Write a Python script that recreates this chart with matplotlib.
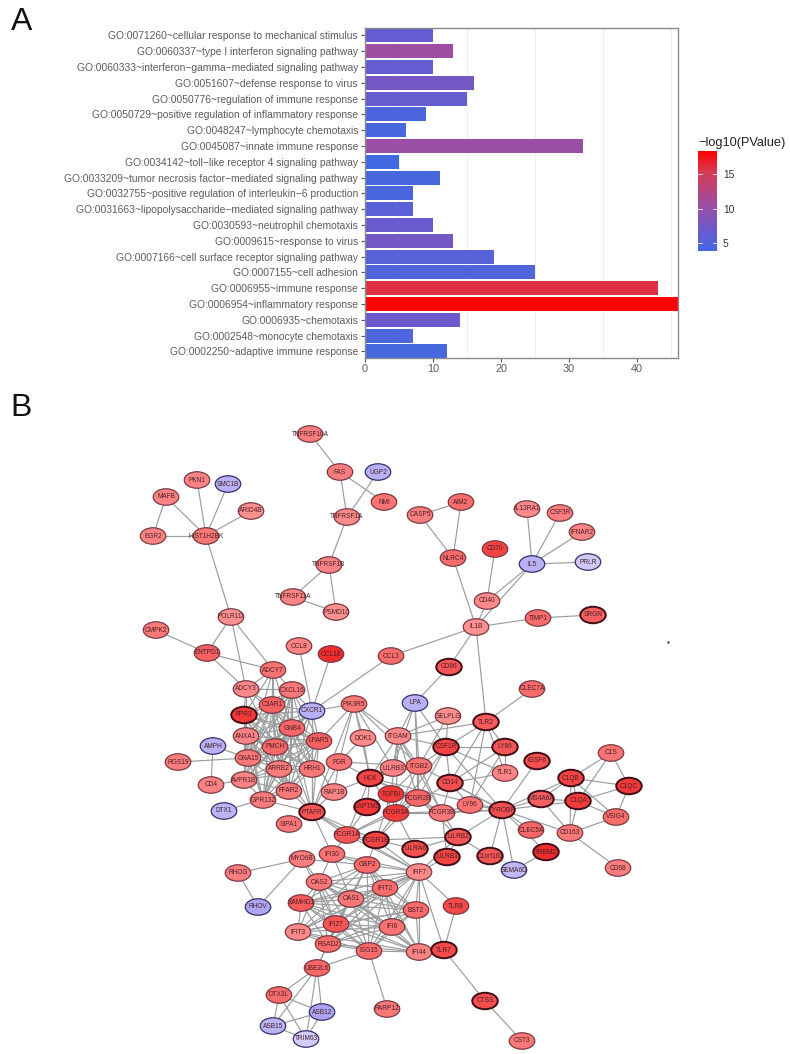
#!/usr/bin/env python
"""GO enrichment bars (A) and PPI network (B)."""
from itertools import combinations

import matplotlib
matplotlib.use("Agg")
import matplotlib.pyplot as plt
from matplotlib.colors import LinearSegmentedColormap, Normalize
from matplotlib.patches import Ellipse

plt.rcParams["font.family"] = ["Liberation Sans", "DejaVu Sans"]

W, H = 790, 1054

# --- panel A data (top to bottom) ---
GO_TERMS = [
    "GO:0071260~cellular response to mechanical stimulus",
    "GO:0060337~type I interferon signaling pathway",
    "GO:0060333~interferon−gamma−mediated signaling pathway",
    "GO:0051607~defense response to virus",
    "GO:0050776~regulation of immune response",
    "GO:0050729~positive regulation of inflammatory response",
    "GO:0048247~lymphocyte chemotaxis",
    "GO:0045087~innate immune response",
    "GO:0034142~toll−like receptor 4 signaling pathway",
    "GO:0033209~tumor necrosis factor−mediated signaling pathway",
    "GO:0032755~positive regulation of interleukin−6 production",
    "GO:0031663~lipopolysaccharide−mediated signaling pathway",
    "GO:0030593~neutrophil chemotaxis",
    "GO:0009615~response to virus",
    "GO:0007166~cell surface receptor signaling pathway",
    "GO:0007155~cell adhesion",
    "GO:0006955~immune response",
    "GO:0006954~inflammatory response",
    "GO:0006935~chemotaxis",
    "GO:0002548~monocyte chemotaxis",
    "GO:0002250~adaptive immune response",
]
GO_COUNTS = [10, 13, 10, 16, 15, 9, 6, 32, 5, 11, 7, 7, 10, 13, 19, 25, 43, 46, 14, 7, 12]
GO_LOGP = [6.3, 10.6, 6.3, 7.6, 6.4, 4.6, 4.2, 10.4, 3.8, 4.2, 4.4, 5.6, 6.6, 7.4, 5.4, 4.9,
           15.9, 18.4, 6.9, 4.6, 4.1]
CBAR_TICKS = [5, 10, 15]

# --- panel B data ---
NODE_NAMES = [
    "TNFRSF10A", "FAS", "UGP2", "NMI", "TNFRSF1A", "TNFRSF1B", "TNFRSF11A", "PSMD10",
    "PKN1", "SMC1B", "MAFB", "ARID4B", "EGR2", "HIST1H2BK", "POLR1D", "CMPK2", "ENTPD1",
    "CCL8", "CCL18", "CCL3", "ADCY7", "ADCY3", "CXCL16", "C3AR1", "CXCR1", "PIK3R5", "FPR3",
    "CASP5", "AIM2", "IL13RA1", "CSF3R", "IFNAR2", "NLRC4", "CD70", "IL5", "PRLR", "CD40",
    "IL1B", "TIMP1", "SRGN", "CD86", "CLEC7A", "LPA", "SELPLG", "TLR2",
    "ITGAM", "CSF1R", "LY86", "TLR1", "IGSF6", "C1QB", "C1S", "C1QC", "C1QA", "MS4A6A",
    "VSIG4", "CD163", "CD14", "LILRB3", "ITGB2", "TGFBI", "FCGR2B", "FCGR3A", "FCGR3B",
    "LY96", "TYROBP", "CLEC5A", "TREM2", "C1orf162", "SEMA6D", "LILRB2", "LILRA6", "LILRB1",
    "IRF7", "CD68",
    "ANXA1", "GNB4", "PMCH", "LPAR5", "AMPH", "GNA15", "RGS19", "ARRB2", "HRH1", "FGR", "DOK1",
    "HCK", "CD4", "AVPR1B", "FFAR2", "RAP1B", "LAPTM5", "GPR132", "DTX1", "PTAFR", "SIPA1",
    "FCGR1A", "FCGR1B", "IFI30", "MYO6B", "GBP2",
    "RHOG", "RHOV", "OAS2", "OAS1", "IFIT2", "BST2", "TLR8", "SAMHD1", "IFI27", "IFI6",
    "IFIT3", "RSAD2", "ISG15", "IFI44", "TLR7", "UBE2L6", "DTX3L", "ASB12", "PARP12", "CTSS",
    "ASB15", "TRIM63", "CST3",
]
NODE_X = [
    310, 340, 378, 384, 347, 329, 293, 336,
    197, 228, 166, 251, 153, 206, 231, 156, 207,
    299, 331, 391, 273, 246, 292, 272, 312, 354, 244,
    420, 461, 527, 560, 582, 453, 495, 532, 588, 487,
    476, 538, 593, 449, 532, 415, 448, 486,
    398, 446, 505, 505, 537, 571, 611, 629, 578, 541,
    616, 570, 450, 393, 419, 391, 418, 396, 442,
    470, 502, 531, 546, 490, 514, 458, 415, 447,
    419, 618,
    246, 292, 275, 319, 213, 248, 178, 279, 312, 339, 363,
    370, 211, 244, 289, 334, 367, 263, 224, 312, 289,
    347, 376, 332, 302, 367,
    238, 258, 319, 351, 385, 416, 456, 301, 336, 392,
    298, 328, 369, 419, 444, 317, 279, 322, 387, 485,
    273, 306, 522,
]
NODE_Y = [
    434, 472, 472, 502, 517, 565, 597, 612,
    480, 484, 497, 511, 536, 536, 617, 630, 653,
    646, 654, 656, 670, 689, 690, 705, 711, 704, 715,
    515, 502, 509, 513, 532, 558, 549, 564, 562, 601,
    627, 618, 615, 667, 689, 703, 716, 722,
    736, 747, 747, 773, 761, 778, 753, 786, 801, 799,
    817, 833, 783, 768, 766, 794, 798, 813, 813,
    805, 810, 830, 852, 856, 870, 837, 849, 857,
    872, 868,
    736, 728, 747, 741, 746, 758, 762, 769, 769, 762, 738,
    778, 785, 780, 791, 792, 807, 800, 811, 812, 824,
    835, 840, 854, 859, 865,
    873, 907, 882, 899, 888, 910, 906, 903, 924, 927,
    932, 944, 951, 952, 950, 968, 995, 1012, 1009, 1001,
    1026, 1039, 1041,
]
# expression level: negative = down (lavender), positive = up (salmon to red)
NODE_LEVEL = [
    0.25, 0.25, -0.7, 0.35, 0.15, 0.2, 0.2, 0.1,
    0.2, -0.7, 0.2, 0.1, 0.2, 0.3, 0.1, 0.3, 0.5,
    0.2, 0.95, 0.4, 0.35, 0.15, 0.3, 0.5, -0.7, 0.3, 0.85,
    0.25, 0.4, 0.15, 0.25, 0.2, 0.4, 0.75, -0.7, -0.35, 0.15,
    0.1, 0.4, 0.5, 0.6, 0.4, -0.7, 0.1, 0.55,
    0.15, 0.75, 0.6, 0.2, 0.65, 0.75, 0.35, 0.85, 0.8, 0.5,
    0.4, 0.3, 0.65, 0.2, 0.35, 0.85, 0.45, 0.8, 0.3,
    0.35, 0.65, 0.45, 0.95, 0.6, -0.6, 0.6, 0.65, 0.75,
    0.15, 0.25,
    0.2, 0.45, 0.45, 0.5, -0.7, 0.3, 0.25, 0.25, 0.3, 0.35, 0.15,
    0.75, 0.2, 0.2, 0.3, 0.2, 0.85, 0.25, -0.65, 0.6, 0.3,
    0.6, 0.75, 0.35, 0.25, 0.4,
    0.25, -0.85, 0.3, 0.3, 0.4, 0.4, 0.7, 0.55, 0.6, 0.35,
    0.15, 0.4, 0.4, 0.2, 0.7, 0.45, 0.4, -0.9, 0.3, 0.65,
    -0.65, -0.3, 0.3,
]
THICK_NODES = [
    "FPR3", "CD86", "SRGN", "TLR2", "CSF1R", "LY86", "IGSF6", "C1QB", "C1QC", "C1QA", "MS4A6A",
    "CD14", "HCK", "LAPTM5", "PTAFR", "FCGR1B", "TYROBP", "LILRB2", "LILRA6", "LILRB1",
    "C1orf162", "TREM2", "TLR7", "CTSS",
]
GPCR_CLUSTER = ["CXCL16", "C3AR1", "CXCR1", "FPR3", "ANXA1", "GNB4", "PMCH",
                "LPAR5", "GNA15", "ARRB2", "HRH1", "AVPR1B", "FFAR2", "GPR132"]
ISG_CLUSTER = ["OAS2", "OAS1", "IFIT2", "BST2", "SAMHD1", "IFI27", "IFI6", "IFIT3", "RSAD2",
               "ISG15", "IFI44", "IRF7", "GBP2"]
EDGES = """TNFRSF10A-FAS FAS-TNFRSF1A FAS-NMI UGP2-TNFRSF1A TNFRSF1A-TNFRSF1B TNFRSF1B-TNFRSF11A
TNFRSF1B-PSMD10 TNFRSF11A-PSMD10 PKN1-HIST1H2BK SMC1B-HIST1H2BK MAFB-HIST1H2BK ARID4B-HIST1H2BK
EGR2-HIST1H2BK MAFB-EGR2 HIST1H2BK-POLR1D POLR1D-ENTPD1 POLR1D-ADCY7 POLR1D-ADCY3 CMPK2-ENTPD1
ENTPD1-ADCY7 ENTPD1-ADCY3 CCL8-CXCR1 CCL18-CXCR1 CCL3-CXCR1 CCL3-IL1B CASP5-AIM2 CASP5-NLRC4
AIM2-NLRC4 NLRC4-IL1B CD70-CD40 CD40-IL1B CD40-IL5 IL1B-IL5 IL13RA1-IL5 CSF3R-IL5 IFNAR2-IL5
PRLR-IL5 IL1B-TIMP1 TIMP1-SRGN IL1B-CD86 CD86-LPA IL1B-TLR2 TLR2-CLEC7A
ADCY7-ADCY3 ADCY7-CXCL16 ADCY7-C3AR1 ADCY7-PMCH ADCY7-GNB4 ADCY7-GNA15 ADCY7-FPR3
ADCY3-CXCL16 ADCY3-C3AR1 ADCY3-FPR3 ADCY3-PMCH ADCY3-ANXA1 ADCY3-GNB4
LPA-ITGAM LPA-CSF1R LPA-ITGB2 LPA-FCGR2B LPA-LILRB3 AMPH-GNA15 AMPH-CD4 RGS19-GNA15 CD4-AVPR1B
DTX1-FFAR2 PTAFR-CXCR1 PTAFR-LPAR5 PTAFR-HRH1 PTAFR-FFAR2 PTAFR-ARRB2 PTAFR-GNB4 PTAFR-C3AR1
PTAFR-FCGR1A PTAFR-FCGR1B PTAFR-IFI30 PTAFR-IRF7 PTAFR-GPR132 RAP1B-GNB4
PIK3R5-CXCR1 PIK3R5-FGR PIK3R5-HCK PIK3R5-ITGAM PIK3R5-DOK1 PIK3R5-PTAFR PIK3R5-LILRB3
PIK3R5-ITGB2 PIK3R5-LPAR5 DOK1-HCK DOK1-FGR FGR-HCK FGR-PTAFR FGR-ITGB2 RAP1B-HCK RAP1B-PTAFR
RAP1B-FGR HCK-LAPTM5 HCK-TYROBP HCK-ITGB2 HCK-FCGR2B HCK-FCGR3A HCK-FCGR1A HCK-ITGAM HCK-LILRB3
HCK-FCGR3B ITGAM-ITGB2 ITGAM-CSF1R ITGAM-FCGR3A ITGAM-FCGR2B ITGAM-LILRB3 ITGAM-SELPLG
ITGAM-TGFBI ITGAM-FCGR3B ITGB2-SELPLG ITGB2-CSF1R ITGB2-TYROBP ITGB2-FCGR3B ITGB2-FCGR3A
ITGB2-TGFBI ITGB2-LILRB3 ITGB2-FCGR2B CSF1R-SELPLG CSF1R-TLR2 CSF1R-LY86 CSF1R-CD14 CSF1R-TYROBP
CSF1R-FCGR3A CSF1R-FCGR2B CSF1R-TLR1 TLR2-CD14 TLR2-LY96 TLR2-LY86 TLR2-TLR1 TLR2-ITGAM LY86-TLR1
LY86-LY96 LY86-CD14 TLR1-CD14 CD14-LY96 CD14-TYROBP CD14-FCGR3A CD14-FCGR3B LY96-TYROBP LY96-FCGR3B
TYROBP-IGSF6 TYROBP-C1QB TYROBP-MS4A6A TYROBP-C1QA TYROBP-CD163 TYROBP-CLEC5A TYROBP-C1orf162
TYROBP-SEMA6D TYROBP-LILRB2 TYROBP-FCGR3A TYROBP-FCGR3B TYROBP-TREM2 TREM2-SEMA6D MS4A6A-C1QB
MS4A6A-C1QA MS4A6A-CD163 C1QB-C1S C1QB-C1QC C1QB-C1QA C1QB-VSIG4 C1QB-CD163 C1S-C1QC C1S-C1QA
C1QC-C1QA C1QC-VSIG4 C1QA-VSIG4 C1QA-CD163 VSIG4-CD163 CD163-CD68 LILRB2-LILRB1 LILRB2-LILRA6
LILRB2-C1orf162 LILRB2-FCGR3B LILRB2-FCGR1B LILRB2-FCGR2B LILRA6-FCGR1B LILRA6-FCGR3A LILRB1-FCGR3B
LILRB1-IRF7 LILRB2-IRF7 FCGR1A-FCGR1B FCGR1B-IRF7 FCGR1B-FCGR3A FCGR1B-FCGR2B FCGR3A-FCGR3B
FCGR3A-TGFBI FCGR2B-FCGR3B FCGR2B-FCGR1A TGFBI-LAPTM5 TGFBI-FCGR1B FCGR1A-IFI30 IFI30-IRF7
GBP2-FCGR1B FCGR1A-IRF7 FCGR1A-FCGR3A LAPTM5-FCGR1A IFI30-OAS2 IFI30-OAS1 IFI30-GBP2
RHOG-MYO6B RHOG-RHOV RHOV-MYO6B MYO6B-GBP2 MYO6B-OAS2 MYO6B-IFI27 IRF7-TLR8 IRF7-TLR7 TLR8-TLR7
IFI44-TLR7 TLR7-CTSS CTSS-CST3 ISG15-PARP12 UBE2L6-ISG15 UBE2L6-RSAD2 UBE2L6-IFI27 UBE2L6-DTX3L
UBE2L6-ASB12 UBE2L6-ASB15 UBE2L6-TRIM63 DTX3L-ASB12 DTX3L-ASB15 DTX3L-TRIM63 ASB12-ASB15
ASB12-TRIM63 ASB15-TRIM63""".split()


def main():
    fig = plt.figure(figsize=(W / 100, H / 100), dpi=100)

    # --- network drawn first on a full-figure axes in pixel units ---
    net = fig.add_axes([0, 0, 1, 1])
    net.set_xlim(0, W)
    net.set_ylim(H, 0)
    net.axis("off")

    pos = {n: (x, y) for n, x, y in zip(NODE_NAMES, NODE_X, NODE_Y)}
    pairs = [tuple(e.split("-")) for e in EDGES]
    pairs += list(combinations(GPCR_CLUSTER, 2)) + list(combinations(ISG_CLUSTER, 2))
    for a, b in pairs:
        net.plot([pos[a][0], pos[b][0]], [pos[a][1], pos[b][1]], color="#9a9e9e", lw=0.85, zorder=1)

    node_cmap = LinearSegmentedColormap.from_list(
        "node", [(0, "#a59cf2"), (0.49, "#e4e0fa"), (0.5, "#ff9c9c"), (1, "#f02626")])
    for name, x, y, level in zip(NODE_NAMES, NODE_X, NODE_Y, NODE_LEVEL):
        thick = name in THICK_NODES
        edge = "#3f0d16" if thick else ("#34316e" if level < 0 else "#7a3a44")
        net.add_patch(Ellipse((x, y), 25.5, 16.5, facecolor=node_cmap((level + 1) / 2),
                              edgecolor=edge, lw=1.4 if thick else 0.9, zorder=2))
        net.text(x, y, name, fontsize=4.7, color="#4a2028", ha="center", va="center", zorder=3)
    net.plot([668], [642], marker=".", ms=1.5, color="#444444")

    net.text(11, 30, "A", fontsize=23, color="#111111", ha="left", va="baseline")
    net.text(10, 416, "B", fontsize=23, color="#111111", ha="left", va="baseline")

    # --- panel A ---
    bar_cmap = LinearSegmentedColormap.from_list(
        "p", [(0, "#4169e1"), (0.2, "#6a5acd"), (0.45, "#9a4fa5"), (0.8, "#d83a50"), (1, "#ff0000")])
    norm = Normalize(min(GO_LOGP), max(GO_LOGP))
    ax = fig.add_axes([365 / W, 1 - 358 / H, (678 - 365) / W, (358 - 28) / H])
    y = list(range(len(GO_TERMS)))
    ax.barh(y, GO_COUNTS, height=0.88, color=[bar_cmap(norm(v)) for v in GO_LOGP], zorder=2)
    ax.set_xlim(0, 46)
    ax.set_ylim(20.42, -0.47)
    ax.set_yticks(y)
    ax.set_yticklabels(GO_TERMS, fontsize=7.4, color="#5c5c5c")
    ax.set_xticks([0, 10, 20, 30, 40])
    ax.set_xticks([5, 15, 25, 35, 45], minor=True)
    ax.tick_params(axis="x", which="major", labelsize=7.8, labelcolor="#5c5c5c", color="#555555",
                   length=3, width=0.8, pad=1)
    ax.tick_params(axis="x", which="minor", length=0)
    ax.tick_params(axis="y", color="#555555", length=3, width=0.8, pad=2)
    ax.grid(axis="x", which="minor", color="#efefef", lw=0.7, zorder=0)
    for s in ax.spines.values():
        s.set_color("#8a8a8a")
        s.set_linewidth(1.0)

    # --- colour bar ---
    cax = fig.add_axes([698 / W, 1 - 251 / H, 19 / W, 100 / H])
    sm = plt.cm.ScalarMappable(norm=norm, cmap=bar_cmap)
    cb = fig.colorbar(sm, cax=cax)
    cb.set_ticks(CBAR_TICKS)
    cb.outline.set_visible(False)
    cax.tick_params(labelsize=7.4, labelcolor="#333333", length=0, pad=4.3)
    for t in CBAR_TICKS:
        cax.plot([0, 0.22], [t, t], color="#f4d6d6", lw=0.7, transform=cax.get_yaxis_transform())
        cax.plot([0.78, 1], [t, t], color="#f4d6d6", lw=0.7, transform=cax.get_yaxis_transform())
    net.text(698, 146, "−log10(PValue)", fontsize=9.2, color="#222222", ha="left", va="baseline")

    fig.savefig("out.png", dpi=100)


if __name__ == "__main__":
    main()
